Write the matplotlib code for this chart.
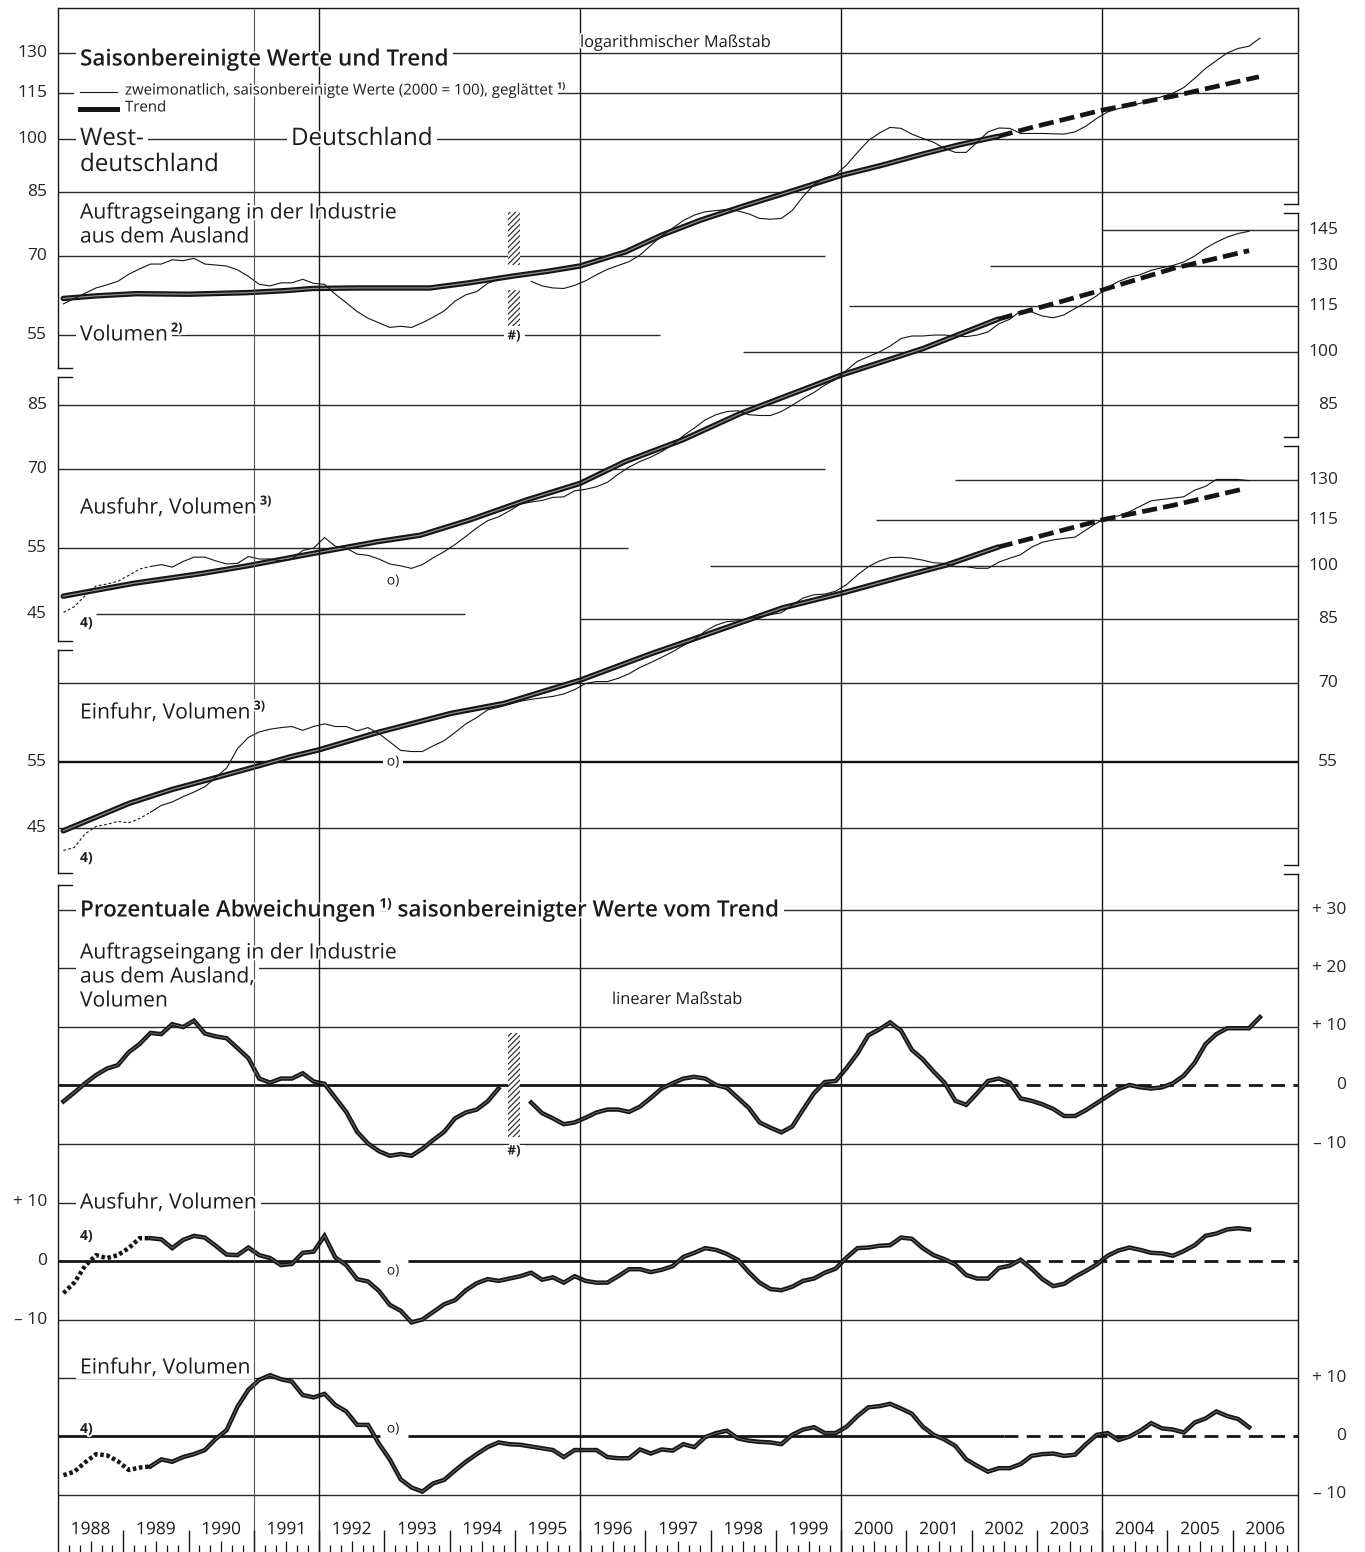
import numpy as np
import matplotlib
matplotlib.use("Agg")
import matplotlib.pyplot as plt
from matplotlib.patches import Rectangle
from matplotlib import patheffects as pe
from matplotlib.transforms import blended_transform_factory as blend

nan = np.nan

# ---------------------------------------------------------------- data
# bimonthly smoothed, seasonally adjusted values (2000 = 100), from Jan/Feb 1988
orders_vals = [
    60.5, 61.5, 62.5, 63.5, 64.1, 64.8, 66.2, 67.3, 68.3, 68.3,
    69.2, 69.0, 69.5, 68.3, 68.1, 67.9, 67.1, 65.8, 64.2, 63.9,
    64.5, 64.5, 65.2, 64.4, 64.2, 62.3, 60.7, 59.1, 57.9, 57.1,
    56.3, 56.5, 56.3, 57.1, 58.1, 59.2, 61.0, 62.2, 62.8, 64.4,
    65.2, nan, nan, 64.8, 63.9, 63.5, 63.4, 64.0, 64.9, 66.1,
    67.2, 68.0, 68.8, 70.2, 72.3, 74.4, 76.2, 78.0, 79.3, 80.1,
    80.4, 80.7, 80.3, 79.6, 78.5, 78.3, 78.5, 80.4, 83.9, 87.0,
    88.8, 89.7, 92.4, 96.0, 99.5, 101.8, 103.6, 103.3, 101.5, 100.2,
    99.0, 97.2, 96.0, 96.0, 99.0, 102.2, 103.4, 103.3, 101.7, 101.7,
    101.7, 101.6, 101.5, 102.2, 104.0, 106.5, 108.6, 109.7, 110.6, 111.5,
    112.6, 113.8, 115.0, 117.0, 120.3, 124.0, 127.0, 130.0, 131.8, 132.7, 136.0]
orders_dev = [
    -2.8, -1.3, 0.3, 1.7, 2.8, 3.4, 5.6, 7.0, 8.9, 8.7,
    10.4, 9.9, 11.0, 8.8, 8.3, 8.0, 6.3, 4.6, 1.1, 0.4,
    1.1, 1.1, 2.0, 0.6, 0.2, -2.2, -4.6, -8.0, -10.0, -11.3,
    -12.1, -11.8, -12.1, -10.9, -9.4, -8.0, -5.7, -4.7, -4.2, -2.8,
    -0.6, nan, nan, -3.0, -4.8, -5.7, -6.7, -6.4, -5.6, -4.7,
    -4.2, -4.2, -4.6, -3.7, -2.2, -0.6, 0.3, 1.1, 1.4, 1.1,
    0.0, -0.5, -2.2, -3.9, -6.4, -7.3, -8.1, -7.1, -4.2, -1.4,
    0.5, 0.7, 2.9, 5.4, 8.5, 9.5, 10.7, 9.3, 6.0, 4.4,
    2.3, 0.4, -2.7, -3.4, -1.4, 0.7, 1.1, 0.4, -2.3, -2.7,
    -3.3, -4.1, -5.3, -5.3, -4.3, -3.1, -1.9, -0.7, 0.0, -0.4,
    -0.6, -0.4, 0.3, 1.6, 3.8, 7.0, 8.7, 9.7, 9.7, 9.7, 11.6]
orders_trend_t = [1988.08, 1988.6, 1989.2, 1990.0, 1990.9, 1991.5, 1991.9, 1992.6, 1993.7,
                  1994.3, 1995.0, 1995.5, 1996.0, 1996.7, 1997.25, 1997.85, 1998.5, 1999.05,
                  2000.0, 2000.6, 2001.25, 2001.8, 2002.4]
orders_trend_v = [61.5, 62.0, 62.4, 62.3, 62.6, 63.0, 63.4, 63.5, 63.5,
                  64.5, 65.9, 66.8, 67.9, 70.9, 74.6, 78.1, 81.5, 84.3,
                  89.5, 92.2, 95.5, 98.2, 100.8]
orders_fc_t = [2002.4, 2003.0, 2004.0, 2005.1, 2006.4]
orders_fc_v = [100.8, 104.0, 109.2, 114.0, 120.9]

exports_vals = [
    45.2, 46.0, 47.6, 49.0, 49.3, 49.7, 50.6, 51.6, 52.0, 52.3,
    51.9, 52.8, 53.5, 53.5, 52.9, 52.4, 52.5, 53.6, 53.2, 53.2,
    52.9, 53.2, 54.6, 55.0, 56.8, 55.3, 55.0, 54.0, 53.8, 53.2,
    52.4, 52.1, 51.7, 52.3, 53.4, 54.4, 55.6, 57.0, 58.5, 59.8,
    60.5, 61.6, 62.9, 63.3, 63.6, 64.2, 64.3, 65.5, 65.8, 66.3,
    67.2, 68.9, 70.4, 71.6, 72.6, 73.8, 75.4, 77.5, 79.3, 81.3,
    82.6, 83.4, 83.6, 82.6, 82.4, 82.4, 83.4, 85.0, 86.8, 88.4,
    90.4, 92.0, 94.6, 97.2, 98.6, 100.0, 101.8, 104.2, 105.0, 105.0,
    105.3, 105.3, 105.0, 104.8, 105.3, 106.3, 109.0, 110.5, 113.3, 113.0,
    111.6, 111.0, 112.0, 114.2, 116.3, 118.7, 121.8, 124.0, 125.6, 126.6,
    128.3, 129.3, 130.2, 131.6, 134.0, 137.2, 139.8, 142.0, 143.5, 144.5]
exports_dev = [
    -5.5, -3.7, -0.8, 1.0, 0.5, 1.0, 2.2, 3.9, 3.9, 3.7,
    2.2, 3.6, 4.3, 4.0, 2.6, 1.1, 1.0, 2.3, 1.0, 0.5,
    -0.7, -0.5, 1.4, 1.6, 4.3, 0.6, -0.7, -3.1, -3.5, -5.1,
    -7.5, -8.5, -10.5, -10.0, -8.7, -7.4, -6.7, -5.0, -3.8, -3.1,
    -3.4, -3.0, -2.6, -2.0, -3.2, -2.8, -3.7, -2.6, -3.4, -3.7,
    -3.7, -2.6, -1.4, -1.4, -1.9, -1.5, -0.9, 0.7, 1.4, 2.2,
    1.9, 1.2, 0.2, -1.9, -3.7, -4.8, -5.0, -4.4, -3.4, -3.0,
    -2.0, -1.3, 0.6, 2.2, 2.3, 2.6, 2.7, 4.0, 3.8, 2.2,
    1.0, 0.3, -0.6, -2.4, -3.0, -3.0, -1.2, -0.8, 0.2, -1.3,
    -3.1, -4.3, -3.9, -2.7, -1.7, -0.6, 0.9, 1.8, 2.3, 1.9,
    1.4, 1.3, 0.9, 1.7, 2.7, 4.3, 4.7, 5.4, 5.6, 5.4]
exports_trend_t = [1988.08, 1989.16, 1990.2, 1990.9, 1991.9, 1992.9, 1993.55, 1994.3,
                   1995.18, 1996.0, 1996.69, 1997.57, 1998.47, 2000.0, 2001.26, 2002.4]
exports_trend_v = [47.5, 49.4, 50.9, 52.1, 54.1, 56.1, 57.2, 59.9,
                   63.7, 67.0, 71.6, 76.5, 83.0, 93.2, 101.1, 110.5]
exports_fc_t = [2002.4, 2004.0, 2005.1, 2006.25]
exports_fc_v = [110.5, 120.8, 129.1, 136.2]

imports_vals = [
    42.0, 42.4, 44.2, 45.2, 45.5, 45.9, 45.7, 46.3, 47.2, 48.2,
    48.7, 49.5, 50.2, 51.0, 52.5, 54.0, 57.3, 59.3, 60.3, 60.8,
    61.1, 61.3, 60.6, 61.3, 61.8, 61.3, 61.3, 60.5, 61.1, 60.0,
    58.5, 57.0, 56.8, 56.8, 57.8, 58.7, 60.2, 61.8, 63.0, 64.5,
    65.0, 65.6, 66.2, 66.6, 66.9, 67.2, 67.7, 68.6, 69.9, 70.3,
    70.3, 71.0, 72.0, 73.4, 74.5, 75.7, 77.0, 78.5, 79.8, 82.0,
    83.5, 84.4, 84.6, 85.2, 85.7, 86.2, 86.7, 88.8, 90.7, 91.6,
    91.8, 92.6, 94.5, 97.3, 99.8, 101.5, 102.6, 102.7, 102.4, 101.8,
    101.0, 100.8, 99.8, 99.8, 99.3, 99.3, 101.2, 102.4, 103.5, 105.9,
    107.5, 108.3, 108.8, 109.2, 111.6, 114.0, 116.0, 116.5, 118.0, 120.0,
    122.0, 122.5, 123.0, 123.5, 126.0, 127.5, 130.2, 130.2, 130.2, 129.7]
imports_dev = [
    -6.7, -6.1, -4.5, -3.1, -3.3, -4.3, -5.8, -5.4, -5.2, -4.0,
    -4.4, -3.6, -3.1, -2.4, -0.5, 1.0, 5.0, 7.9, 9.6, 10.4,
    9.7, 9.3, 7.0, 6.6, 7.2, 5.3, 4.2, 1.9, 1.9, -1.3,
    -4.0, -7.4, -8.8, -9.5, -8.1, -7.5, -5.9, -4.4, -3.1, -1.9,
    -1.1, -1.4, -1.5, -1.8, -2.1, -2.4, -3.6, -2.4, -2.4, -2.4,
    -3.6, -3.8, -3.8, -2.3, -3.0, -2.3, -2.5, -1.4, -1.9, -0.2,
    0.5, 0.9, -0.4, -0.8, -1.0, -1.1, -1.4, 0.2, 1.1, 1.5,
    0.5, 0.5, 1.6, 3.4, 4.9, 5.1, 5.5, 4.7, 3.8, 1.6,
    0.2, -0.6, -1.7, -4.0, -5.1, -6.1, -5.5, -5.5, -4.8, -3.4,
    -3.1, -3.0, -3.4, -3.2, -1.4, 0.2, 0.5, -0.7, -0.1, 0.9,
    2.2, 1.3, 1.1, 0.6, 2.3, 3.0, 4.2, 3.4, 2.9, 1.5]
imports_trend_t = [1988.08, 1989.09, 1989.75, 1990.4, 1991.08, 1991.56, 1992.0, 1992.93,
                   1994.02, 1994.84, 1996.0, 1997.1, 1997.84, 1999.1, 2000.0, 2000.84,
                   2001.61, 2002.4]
imports_trend_v = [44.6, 48.5, 50.6, 52.4, 54.4, 55.9, 57.1, 60.3,
                   63.8, 65.8, 70.6, 76.6, 80.6, 88.0, 92.0, 96.3,
                   100.3, 105.9]
imports_fc_t = [2002.4, 2004.0, 2005.1, 2006.2]
imports_fc_v = [105.9, 115.1, 120.4, 126.7]

years = list(range(1988, 2007))
vline_years_thin = [1991]
vline_years = [1992, 1996, 2000, 2004]

# ---------------------------------------------------------------- layout
W, H = 1365, 1552
plt.rcParams['font.family'] = ['Open Sans', 'DejaVu Sans']
plt.rcParams['hatch.linewidth'] = 0.9
fig = plt.figure(figsize=(W / 100, H / 100), dpi=100)
fig.patch.set_facecolor('white')

X0, X1 = 58, 1298
T0, T1 = 1988.0, 2007.0
INK = '#151515'
GRID = dict(color='#2a2a2a', lw=1.0)
FORECAST_START = 2002.5


def pbox(x0, y0, x1, y1, z):
    ax = fig.add_axes([x0 / W, 1 - y1 / H, (x1 - x0) / W, (y1 - y0) / H], zorder=z)
    ax.set_axis_off()
    return ax


def overlay(z):
    ax = pbox(0, 0, W, H, z)
    ax.set_xlim(0, W)
    ax.set_ylim(H, 0)
    return ax


K = 328.0  # px per ln-unit


def log_panel(ytop, ybot, yref):
    ax = pbox(X0, ytop, X1, ybot, 2)
    ax.set_yscale('log')
    ax.set_ylim(100 * np.exp((yref - ybot) / K), 100 * np.exp((yref - ytop) / K))
    ax.set_xlim(T0, T1)
    return ax


S = 5.85  # px per percentage point


def lin_panel(ytop, ybot, yzero):
    ax = pbox(X0, ytop, X1, ybot, 2)
    ax.set_ylim((yzero - ybot) / S, (yzero - ytop) / S)
    ax.set_xlim(T0, T1)
    return ax


def tgrid(n):
    return 1988 + (2 * np.arange(n) + 1) / 12.0


def hl(ax, v, a=T0, b=T1, **kw):
    d = dict(GRID)
    d.update(kw)
    ax.hlines(v, a, b, **d)


def ylabels(ax, vals, texts, side, offset):
    tr = blend(ax.transAxes, ax.transData)
    for v, s in zip(vals, texts):
        if side == 'L':
            xf = -offset / (X1 - X0)
        else:
            xf = 1 + offset / (X1 - X0)
        ax.text(xf, v, s, ha='right', va='center', transform=tr,
                fontsize=12.5, color='#262626')


def trend(ax, t, v, tf, vf):
    ax.plot(t, v, color=INK, lw=3.9, solid_capstyle='round', zorder=3)
    ax.plot(t, v, color='#8f8f8f', lw=0.9, zorder=3.1)
    ax.plot(tf, vf, color=INK, lw=3.4, dashes=(3.2, 1.3), zorder=3)


def thin(ax, vals, dotted=False):
    v = np.array(vals, dtype=float)
    t = tgrid(len(v))
    if dotted:
        ax.plot(t[:9], v[:9], color=INK, lw=0.8, dashes=(2.5, 2.0), zorder=4)
        ax.plot(t[8:], v[8:], color=INK, lw=0.8, zorder=4)
    else:
        ax.plot(t, v, color=INK, lw=0.8, zorder=4)


def devline(ax, vals, dotted=False):
    v = np.array(vals, dtype=float)
    t = tgrid(len(v))
    if dotted:
        ax.plot(t[:9], v[:9], color=INK, lw=3.2, dashes=(0.8, 0.6), zorder=4)
        t, v = t[8:], v[8:]
    ax.plot(t, v, color=INK, lw=3.2, solid_joinstyle='miter', zorder=4)
    ax.plot(t, v, color='#6a6a6a', lw=0.7, zorder=4.1)


def zero_line(ax, gap=None):
    segs = [(T0, FORECAST_START)]
    if gap:
        segs = [(T0, gap[0]), (gap[1], FORECAST_START)]
    for a, b in segs:
        ax.hlines(0, a, b, color=INK, lw=2.0)
    ax.plot([FORECAST_START, T1], [0, 0], color=INK, lw=2.0, dashes=(5, 3))


def xt(px):
    return T0 + (px - X0) / (X1 - X0) * (T1 - T0)


# ------------------------------------------------------------ log panels
p1 = log_panel(8, 370, 139)
for v in [130, 115, 100, 85]:
    hl(p1, v)
hl(p1, 70, T0, xt(825))
hl(p1, 55, T0, xt(660))
ylabels(p1, [130, 115, 100, 85, 70, 55], ['130', '115', '100', '85', '70', '55'], 'L', 11)
trend(p1, orders_trend_t, orders_trend_v, orders_fc_t, orders_fc_v)
thin(p1, orders_vals)

p2 = log_panel(213, 641, 352)
hl(p2, 145, xt(1102))
hl(p2, 130, xt(990))
hl(p2, 115, xt(849))
hl(p2, 100, xt(743))
hl(p2, 85)
hl(p2, 70, T0, xt(825))
hl(p2, 55, T0, xt(628))
hl(p2, 45, xt(96), xt(465))
ylabels(p2, [85, 70, 55, 45], ['85', '70', '55', '45'], 'L', 11)
ylabels(p2, [145, 130, 115, 100, 85], ['145', '130', '115', '100', '85'], 'R', 40)
trend(p2, exports_trend_t, exports_trend_v, exports_fc_t, exports_fc_v)
thin(p2, exports_vals, dotted=True)

p3 = log_panel(446, 873, 566)
hl(p3, 130, xt(955))
hl(p3, 115, xt(876))
hl(p3, 100, xt(710))
hl(p3, 85, xt(580))
hl(p3, 70)
hl(p3, 55, lw=1.7, color='#111')
hl(p3, 45)
ylabels(p3, [55, 45], ['55', '45'], 'L', 11)
ylabels(p3, [130, 115, 100, 85, 70, 55], ['130', '115', '100', '85', '70', '55'], 'R', 40)
trend(p3, imports_trend_t, imports_trend_v, imports_fc_t, imports_fc_v)
thin(p3, imports_vals, dotted=True)

# ------------------------------------------------------ deviation panels
p4 = lin_panel(874, 1165, 1085)
for v in [30, 20, 10, -10]:
    hl(p4, v)
zero_line(p4)
ylabels(p4, [30, 20, 10, 0, -10], ['+ 30', '+ 20', '+ 10', '0', '\u2013 10'], 'R', 48)
devline(p4, orders_dev)

p5 = lin_panel(1165, 1340, 1261)
hl(p5, 10)
hl(p5, -10)
zero_line(p5, gap=(xt(380), xt(408)))
ylabels(p5, [10, 0, -10], ['+ 10', '0', '\u2013 10'], 'L', 11)
devline(p5, exports_dev, dotted=True)

p6 = lin_panel(1340, 1515, 1436)
hl(p6, 10)
hl(p6, -10)
zero_line(p6, gap=(xt(380), xt(408)))
ylabels(p6, [10, 0, -10], ['+ 10', '0', '\u2013 10'], 'R', 48)
devline(p6, imports_dev, dotted=True)

# ------------------------------------------------------------- overlays
ov_box = overlay(3)
ov_v = overlay(4)
ov_txt = overlay(6)

# vertical year lines (full height)
axv = pbox(X0, 8, X1, H, 4.5)
axv.set_xlim(T0, T1)
axv.set_ylim(0, 1)
axv.vlines(vline_years_thin, 0, 1, color='#555555', lw=0.8)
axv.vlines(vline_years, 0, 1, color=INK, lw=1.0)

# frame with broken-scale brackets
FR = dict(color=INK, lw=1.0, solid_capstyle='projecting')
ov_v.plot([X0, X1], [8, 8], **FR)
for a, b in [(8, 368), (377, 641), (650, 873), (885, H)]:
    ov_v.plot([X0, X0], [a, b], **FR)
for yy in [368, 377, 641, 650, 873, 885]:
    ov_v.plot([X0, X0 + 14], [yy, yy], **FR)
for a, b in [(8, 204), (213, 437), (446, 865), (874, H)]:
    ov_v.plot([X1, X1], [a, b], **FR)
for yy in [204, 213, 437, 446, 865, 874]:
    ov_v.plot([X1 - 14, X1], [yy, yy], **FR)

# structural-break hatch marks
for (a, b) in [(212, 265), (290, 326), (1033, 1137)]:
    ov_v.add_patch(Rectangle((508, a), 12, b - a, facecolor='white',
                             edgecolor='#333333', lw=0, hatch='//////'))

R = fig.canvas.get_renderer()
HALO = [pe.withStroke(linewidth=2.5, foreground='white')]


def label(x, y, segs, size, weight='normal', boxed=True, ha='left', color='#1c1c1c'):
    cx = x
    for s, sup in segs:
        if sup:
            t = ov_txt.text(cx + 3, y - size * 0.45, s, fontsize=size * 0.6,
                            fontweight='bold', ha='left', va='center', color=color)
        else:
            t = ov_txt.text(cx, y, s, fontsize=size, fontweight=weight,
                            ha=ha, va='center', color=color)
        t.set_path_effects(HALO)
        bb = t.get_window_extent(R)
        if boxed:
            ov_box.add_patch(Rectangle((bb.x0 - 4, H - bb.y1), bb.width + 8, bb.height,
                                       facecolor='white', edgecolor='none'))
        cx = bb.x1
    return cx


BODY = 15.2
HEAD = 16.2
SMALL = 11.8

# header
label(80, 60, [('Saisonbereinigte Werte und Trend', False)], HEAD, weight='semibold')
label(580, 43, [('logarithmischer Ma\u00dfstab', False)], SMALL)
ov_box.add_patch(Rectangle((74, 85), 50, 14, facecolor='white', edgecolor='none'))
ov_txt.plot([80, 117], [92, 92], color=INK, lw=0.8)
label(125, 91, [('zweimonatlich, saisonbereinigte Werte (2000 = 100), gegl\u00e4ttet', False),
                ('1)', True)], 10.8)
ov_txt.plot([80, 117], [109, 109], color=INK, lw=3.6)
label(125, 108, [('Trend', False)], 10.8)
label(80, 139, [('West-', False)], 17.4)
label(80, 165, [('deutschland', False)], 17.4)
label(291, 139, [('Deutschland', False)], 17.4)

label(80, 213, [('Auftragseingang in der Industrie', False)], BODY)
label(80, 237, [('aus dem Ausland', False)], BODY)
label(80, 335, [('Volumen', False), ('2)', True)], BODY)
label(514, 336, [('#)', False)], 9.5, weight='bold', ha='center')

label(80, 508, [('Ausfuhr, Volumen', False), ('3)', True)], BODY, boxed=False)
label(393, 581, [('o)', False)], 10, ha='center', boxed=False)
label(80, 623, [('4)', False)], 10, weight='bold', boxed=False)

label(80, 713, [('Einfuhr, Volumen', False), ('3)', True)], BODY, boxed=False)
label(393, 762, [('o)', False)], 10, ha='center')
label(80, 858, [('4)', False)], 10, weight='bold', boxed=False)

label(80, 911, [('Prozentuale Abweichungen', False), ('1)', True),
                (' saisonbereinigter Werte vom Trend', False)], HEAD, weight='semibold')
label(80, 953, [('Auftragseingang in der Industrie', False)], BODY)
label(80, 977, [('aus dem Ausland,', False)], BODY)
label(80, 1001, [('Volumen', False)], BODY)
label(612, 1000, [('linearer Ma\u00dfstab', False)], SMALL, boxed=False)
label(514, 1151, [('#)', False)], 9.5, weight='bold', ha='center')

label(80, 1203, [('Ausfuhr, Volumen', False)], BODY)
label(80, 1236, [('4)', False)], 10, weight='bold', boxed=False)
label(393, 1271, [('o)', False)], 10, ha='center', boxed=False)

label(80, 1368, [('Einfuhr, Volumen', False)], BODY)
label(80, 1429, [('4)', False)], 10, weight='bold', boxed=False)
label(393, 1429, [('o)', False)], 10, ha='center', boxed=False)

# ------------------------------------------------------------ time axis
axb = pbox(X0, 1510, X1, H, 5)
axb.set_xlim(T0, T1)
axb.set_ylim(0, 1)
axb.vlines(years[1:], 0, 0.53, color=INK, lw=1.0)
axb.vlines([y + 0.5 for y in years], 0, 0.27, color=INK, lw=0.9)
minor = [y + k / 6.0 for y in years for k in (1, 2, 4, 5)]
axb.vlines(minor, 0, 0.17, color=INK, lw=0.9)
for y in years:
    axb.text(y + 0.5, 0.52, str(y), ha='center', va='center', fontsize=12.5,
             color='#1c1c1c', path_effects=HALO)

fig.savefig('out.png', dpi=100, facecolor='white')
